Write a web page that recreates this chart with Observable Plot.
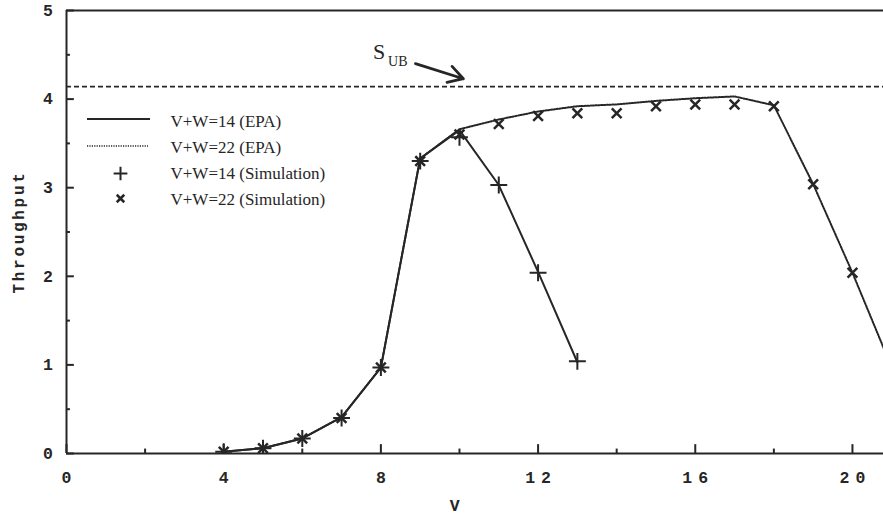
<!DOCTYPE html>
<html><head><meta charset="utf-8">
<script src="https://cdn.jsdelivr.net/npm/d3@7"></script>
<script src="https://cdn.jsdelivr.net/npm/@observablehq/plot@0.6"></script>
<style>
html,body{margin:0;padding:0;background:#fff;overflow:hidden}
</style></head><body><div id="chart"></div>
<script>
// ---- data ----
const v14 = [4,5,6,7,8,9,10,11,12,13];
const epa14 = [0.02,0.06,0.17,0.41,0.97,3.33,3.65,3.03,2.05,1.03];
const sim14 = [0.02,0.06,0.17,0.40,0.97,3.30,3.57,3.03,2.04,1.04];
const v22 = [4,5,6,7,8,9,10,11,12,13,14,15,16,17,18,19,20,21];
const epa22 = [0.02,0.06,0.17,0.41,0.97,3.33,3.66,3.77,3.86,3.92,3.94,3.98,4.01,4.03,3.93,3.04,2.04,0.97];
const vSim22 = [4,5,6,7,8,9,10,11,12,13,14,15,16,17,18,19,20];
const sim22 = [0.02,0.06,0.17,0.40,0.97,3.30,3.60,3.72,3.81,3.84,3.84,3.92,3.94,3.94,3.92,3.04,2.04];
const sUB = 4.14;
const xTickLabels = [0,4,8,12,16,20];
const xMinorTicks = [2,6,10,14,18];
const yTickLabels = [0,1,2,3,4,5];
const yMinorTicks = [0.5,1.5,2.5,3.5,4.5];
const legendLabels = ["V+W=14 (EPA)","V+W=22 (EPA)","V+W=14 (Simulation)","V+W=22 (Simulation)"];
const sLabel = {x: 7.8, y: 4.45, main: "S", sub: "UB"};
const sArrow = {x1: 8.88, y1: 4.40, x2: 10.10, y2: 4.23};

const ink = "#262626";
const mono = "Liberation Mono";
const serif = "Liberation Serif";

const rows14 = v14.map((v,i)=>({v, epa: epa14[i], sim: sim14[i]}));
const rows22 = v22.map((v,i)=>({v, epa: epa22[i]}));
const rowsSim22 = vSim22.map((v,i)=>({v, sim: sim22[i]}));

function legendLines(index, scales, values, dims) {
  const g = d3.create("svg:g");
  g.append("line").attr("x1",87).attr("x2",150).attr("y1",119).attr("y2",119)
    .attr("stroke",ink).attr("stroke-width",2);
  g.append("line").attr("x1",87).attr("x2",148).attr("y1",146).attr("y2",146)
    .attr("stroke",ink).attr("stroke-width",1.6).attr("stroke-dasharray","1.2,1.2");
  return g.node();
}

const plot = Plot.plot({
  width: 883, height: 518,
  marginLeft: 66, marginRight: 0, marginTop: 10, marginBottom: 65,
  x: {domain: [0, 20.79]},
  y: {domain: [0, 5]},
  style: {background: "#fff", color: ink},
  marks: [
    // frame
    Plot.ruleY([0, 5], {stroke: ink, strokeWidth: 2}),
    Plot.ruleX([0], {stroke: ink, strokeWidth: 2}),
    // inward ticks
    Plot.ruleX(xTickLabels, {x: d=>d, y1: 0, y2: 0.1, stroke: ink, strokeWidth: 2}),
    Plot.ruleX(xMinorTicks, {x: d=>d, y1: 0, y2: 0.05, stroke: ink, strokeWidth: 2}),
    Plot.ruleY(yTickLabels, {y: d=>d, x1: 0, x2: 0.2, stroke: ink, strokeWidth: 2}),
    Plot.ruleY(yMinorTicks, {y: d=>d, x1: 0, x2: 0.1, stroke: ink, strokeWidth: 2}),
    Plot.axisX(xTickLabels, {tickSize: 0, tickPadding: 18, dx: 3, tickFormat: d => String(d), fontSize: 16.5, fontWeight: "bold", fontFamily: mono, label: null}),
    Plot.axisY(yTickLabels, {tickSize: 0, tickPadding: 11, tickFormat: d => String(d), fontSize: 16.5, fontWeight: "bold", fontFamily: mono, label: null}),
    Plot.text(["Throughput"], {frameAnchor: "left", textAnchor: "middle", lineAnchor: "middle", dx: -48, rotate: -90, fontSize: 16, fontWeight: "bold", fontFamily: mono}),
    Plot.text(["V"], {frameAnchor: "bottom", textAnchor: "middle", lineAnchor: "middle", dx: -19, dy: 52, fontSize: 16.5, fontWeight: "bold", fontFamily: mono}),
    // upper bound
    Plot.ruleY([sUB], {stroke: ink, strokeWidth: 1.7, strokeDasharray: "5,3"}),
    Plot.text([sLabel], {x: "x", y: "y", text: "main", textAnchor: "start", lineAnchor: "bottom", fontSize: 22, fontFamily: serif}),
    Plot.text([sLabel], {x: "x", y: "y", text: "sub", textAnchor: "start", lineAnchor: "bottom", dx: 15, dy: 7, fontSize: 14, fontFamily: serif}),
    Plot.arrow([sArrow], {x1: "x1", y1: "y1", x2: "x2", y2: "y2", stroke: ink, strokeWidth: 2.8, headLength: 15}),
    // series
    Plot.line(rows22, {x: "v", y: "epa", stroke: ink, strokeWidth: 2, strokeDasharray: "1.4,1.4", clip: true}),
    Plot.line(rows14, {x: "v", y: "epa", stroke: ink, strokeWidth: 2, clip: true}),
    Plot.dot(rows14, {x: "v", y: "sim", symbol: "plus", r: 5.5, stroke: ink, strokeWidth: 2, clip: true}),
    Plot.dot(rowsSim22, {x: "v", y: "sim", symbol: "times", r: 4.5, stroke: ink, strokeWidth: 2.5, clip: true}),
    // legend
    legendLines,
    Plot.text([legendLabels.join("\n")], {frameAnchor: "top-left", dx: 104, dy: 98, textAnchor: "start", lineAnchor: "top", lineHeight: 1.53, fontSize: 17, fontFamily: serif}),
    Plot.dot([legendLabels[2]], {frameAnchor: "top-left", dx: 54, dy: 163, symbol: "plus", r: 4.5, stroke: ink, strokeWidth: 2}),
    Plot.dot([legendLabels[3]], {frameAnchor: "top-left", dx: 54, dy: 188, symbol: "times", r: 3.5, stroke: ink, strokeWidth: 2.5})
  ]
});
document.getElementById("chart").appendChild(plot);
// typewriter-style letter spacing of the monospace axis text
plot.querySelectorAll('g[font-family="' + mono + '"]').forEach(g => {
  const isX = g.getAttribute("aria-label") === "x-axis tick label";
  g.style.letterSpacing = isX ? "6px" : "2.7px";
});
</script>
</body></html>
